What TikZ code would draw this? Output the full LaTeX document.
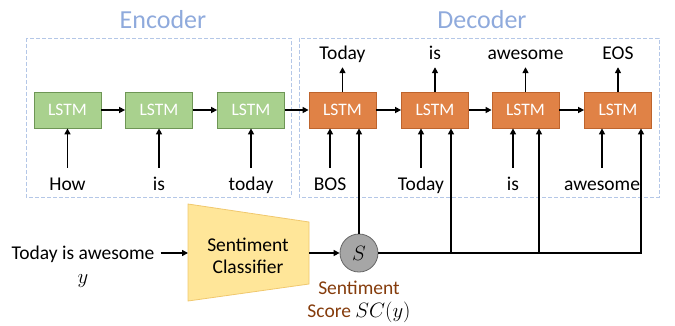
\documentclass[tikz,border=0pt]{standalone}
\usepackage{fontspec}
\setmainfont{Carlito}
\usetikzlibrary{arrows.meta}
\definecolor{lstmgreen}{RGB}{169,209,142}
\definecolor{greenedge}{RGB}{110,150,85}
\definecolor{lstmorange}{RGB}{224,130,70}
\definecolor{orangeedge}{RGB}{190,100,45}
\definecolor{boxblue}{RGB}{180,199,231}
\definecolor{titleblue}{RGB}{143,170,220}
\definecolor{clsyellow}{RGB}{255,230,153}
\definecolor{clsedge}{RGB}{240,200,110}
\definecolor{scorebrown}{RGB}{133,60,12}
\tikzset{
  enc/.style={draw=greenedge, fill=lstmgreen, line width=0.8pt, minimum width=67pt,
    minimum height=36pt, text=white, font=\fontsize{17.5}{20}\selectfont},
  dec/.style={enc, draw=orangeedge, fill=lstmorange},
  word/.style={font=\fontsize{19.5}{23}\selectfont, text height=14pt, text depth=0pt,
    inner xsep=0pt, inner ysep=8pt, anchor=base},
  arr/.style={-{Triangle[length=6pt,width=6pt]}, line width=1.6pt},
  part/.style={draw=boxblue, line width=1pt, dash pattern=on 4pt off 2pt},
  title/.style={font=\fontsize{26}{30}\selectfont, text=titleblue, anchor=base}
}
\begin{document}
\begin{tikzpicture}[x=1pt,y=-1pt]
\useasboundingbox (0,0) rectangle (675,325);
% encoder / decoder frames
\draw[part] (26,38) rectangle (291,197);
\draw[part] (299,38) rectangle (659,197);
\node[title] (enctitle) at (163,28) {Encoder};
\node[title] (dectitle) at (482,28) {Decoder};

% LSTM cells
\foreach \n/\x in {1/67.5,2/159,3/251}{
\node[enc] (e\n) at (\x,110) {LSTM};
}
\foreach \n/\x in {1/342.5,2/435,3/525.5,4/618}{
\node[dec] (d\n) at (\x,110) {LSTM};
}
\draw[arr] (e1) -- (e2);
\draw[arr] (e2) -- (e3);
\draw[arr] (e3) -- (d1);
\draw[arr] (d1) -- (d2);
\draw[arr] (d2) -- (d3);
\draw[arr] (d3) -- (d4);

% encoder inputs
\foreach \n/\x/\w in {1/67.5/How,2/159/is,3/251/today}{
\node[word] (a\n) at (\x,190) {\w};
\draw[arr] (a\n.north) -- (e\n.south);
}
% decoder inputs
\foreach \n/\x/\w in {1/330/BOS,2/421/Today,3/513/is,4/602/awesome}{
\node[word] (b\n) at (\x,190) {\w};
\draw[arr] (b\n.north) -- (b\n.north |- d\n.south);
}
% decoder outputs
\foreach \n/\w in {1/Today,2/is,3/awesome,4/EOS}{
\node[word] (t\n) at (d\n |- 0,59) {\w};
\draw[arr] (d\n.north) -- (t\n.south);
}

% sentiment classifier
\node[word] (sent) at (83,259) {Today is awesome};
\node[font=\fontsize{21}{22}\selectfont, anchor=base] (ylab) at (83,283) {$y$};
\draw[draw=clsedge, fill=clsyellow, line width=0.8pt]
  (188,204) -- (309,222) -- (309,284) -- (188,301) -- cycle;
\coordinate (clsin) at (188,253);
\coordinate (clsout) at (309,253);
\node[align=center, font=\fontsize{19.5}{22}\selectfont] (cls) at (248,256) {Sentiment\\Classifier};
\draw[arr, shorten <=6pt] (sent.east |- clsin) -- (clsin);

\node[circle, draw=gray!80!black, fill=black!35, line width=0.8pt, minimum size=38pt,
  inner sep=0pt, font=\fontsize{21}{22}\selectfont] (S) at (359,253) {$S$};
\draw[arr] (clsout) -- (S);
\node[align=center, text=scorebrown, font=\fontsize{19.5}{23}\selectfont] (score) at (359,302)
  {Sentiment\\Score \textcolor{black}{$SC(y)$}};

% score fed to every decoder step
\coordinate (j2) at (451,253);
\coordinate (j3) at (539,253);
\coordinate (j4) at (641,253);
\draw[arr] (S.north) -- (S.north |- d1.south);
\draw[arr] (S.east) -- (j4) -- (j4 |- d4.south);
\draw[arr] (j2) -- (j2 |- d2.south);
\draw[arr] (j3) -- (j3 |- d3.south);
\end{tikzpicture}
\end{document}
